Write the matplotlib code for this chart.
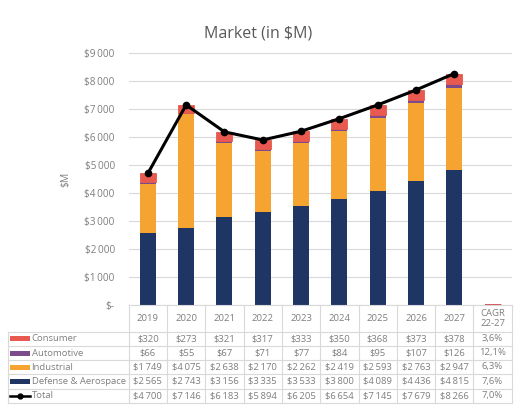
"""Market (in $M) - stacked bars by segment with total line and data table."""

import matplotlib

matplotlib.use("Agg")
import matplotlib.pyplot as plt
from matplotlib.patches import Rectangle
from matplotlib.lines import Line2D

years = ["2019", "2020", "2021", "2022", "2023", "2024", "2025", "2026", "2027"]
cagr_label = "CAGR\n22-27"

consumer = [320, 273, 321, 317, 333, 350, 368, 373, 378]
automotive = [66, 55, 67, 71, 77, 84, 95, 107, 126]
industrial = [1749, 4075, 2638, 2170, 2262, 2419, 2593, 2763, 2947]
defense = [2565, 2743, 3156, 3335, 3533, 3800, 4089, 4436, 4815]
total = [4700, 7146, 6183, 5894, 6205, 6654, 7145, 7679, 8266]

# CAGR 22-27 in percent (last column of the table)
cagr_consumer = 3.6
cagr_automotive = 12.1
cagr_industrial = 6.3
cagr_defense = 7.6
cagr_total = 7.0

colors = {
    "Consumer": "#E8594F",
    "Automotive": "#7D4A8C",
    "Industrial": "#F5A432",
    "Defense & Aerospace": "#1F3564",
}
TXT = "#7F7F7F"
GRID = "#D9D9D9"
FONT = ["Open Sans", "DejaVu Sans"]

plt.rcParams["font.family"] = FONT

W, H = 529, 416
fig = plt.figure(figsize=(W / 100, H / 100), dpi=100)

# plot area in pixels
x0, x1 = 128.7, 511.7
y_top, y_bot = 53, 305
ax = fig.add_axes([x0 / W, 1 - y_bot / H, (x1 - x0) / W, (y_bot - y_top) / H])

n = len(years) + 1
xs = list(range(len(years)))
bw = 0.42

# stacked bars incl. the CAGR column (values are percents, so they are tiny)
seg_vals = {
    "Defense & Aerospace": defense + [cagr_defense],
    "Industrial": industrial + [cagr_industrial],
    "Automotive": automotive + [cagr_automotive],
    "Consumer": consumer + [cagr_consumer],
}
bottom = [0.0] * n
for name in ["Defense & Aerospace", "Industrial", "Automotive", "Consumer"]:
    vals = seg_vals[name]
    ax.bar(range(n), vals, bw, bottom=bottom, color=colors[name],
           edgecolor=colors[name] if name == "Consumer" else "none",
           linewidth=0.6 if name == "Consumer" else 0, zorder=2)
    bottom = [b + v for b, v in zip(bottom, vals)]

ax.plot(xs, total, color="black", linewidth=2.2, marker="o", markersize=4.5, zorder=3)

ax.set_xlim(-0.5, n - 0.5)
ax.set_ylim(0, 9000)
ax.set_yticks(range(0, 9001, 1000))
ax.set_yticklabels(["$-"] + [f"${v // 1000}\u2009000" for v in range(1000, 9001, 1000)])
ax.tick_params(axis="y", length=0, labelsize=7.2, colors=TXT, pad=10)
ax.set_xticks([])
ax.grid(axis="y", color=GRID, linewidth=0.8, zorder=0)
for s in ax.spines.values():
    s.set_visible(False)
ax.set_ylabel("$M", color=TXT, fontsize=7.5, labelpad=9)

fig.text(258 / W, 1 - 33 / H, "Market (in $M)", ha="center", va="center",
         fontsize=11.5, color="#595959")

# data table in pixel coordinates
tab = fig.add_axes([0, 0, 1, 1])
tab.set_xlim(0, W)
tab.set_ylim(H, 0)
tab.axis("off")

col_w = (x1 - x0) / n
row_lines = [305, 331.5, 346, 360, 374, 388.5, 403]
left = 7.5

tab.plot([x0, x1], [row_lines[0]] * 2, color=GRID, lw=0.8)
for yl in row_lines[1:]:
    tab.plot([left, x1], [yl, yl], color=GRID, lw=0.8)
tab.plot([left, left], [row_lines[1], row_lines[-1]], color=GRID, lw=0.8)
for i in range(n + 1):
    xv = x0 + i * col_w
    tab.plot([xv, xv], [row_lines[0], row_lines[-1]], color=GRID, lw=0.8)

fs = 6.8
header = years + [cagr_label]
for i, lab in enumerate(header):
    tab.text(x0 + (i + 0.5) * col_w, (row_lines[0] + row_lines[1]) / 2, lab,
             ha="center", va="center", fontsize=fs, color=TXT, linespacing=1.2)


def money(v):
    return "$" + f"{v:,}".replace(",", "\u2009")


def pct(v):
    return f"{v:.1f}%".replace(".", ",")


rows = [
    ("Consumer", consumer, cagr_consumer),
    ("Automotive", automotive, cagr_automotive),
    ("Industrial", industrial, cagr_industrial),
    ("Defense & Aerospace", defense, cagr_defense),
    ("Total", total, cagr_total),
]
for r, (name, vals, cg) in enumerate(rows):
    yc = (row_lines[r + 1] + row_lines[r + 2]) / 2
    if name == "Total":
        tab.add_line(Line2D([10, 30], [yc, yc], color="black", lw=1.8))
        tab.plot([20], [yc], marker="o", color="black", markersize=3.5)
    else:
        tab.add_patch(Rectangle((10, yc - 2.5), 19.5, 5, color=colors[name], lw=0))
    tab.text(31.5, yc, name, ha="left", va="center", fontsize=fs, color=TXT)
    for i, v in enumerate(vals):
        tab.text(x0 + (i + 0.5) * col_w, yc, money(v), ha="center", va="center",
                 fontsize=fs, color=TXT)
    tab.text(x0 + (n - 0.5) * col_w, yc, pct(cg), ha="center", va="center",
             fontsize=fs, color=TXT)

fig.savefig("out.png", dpi=100)
